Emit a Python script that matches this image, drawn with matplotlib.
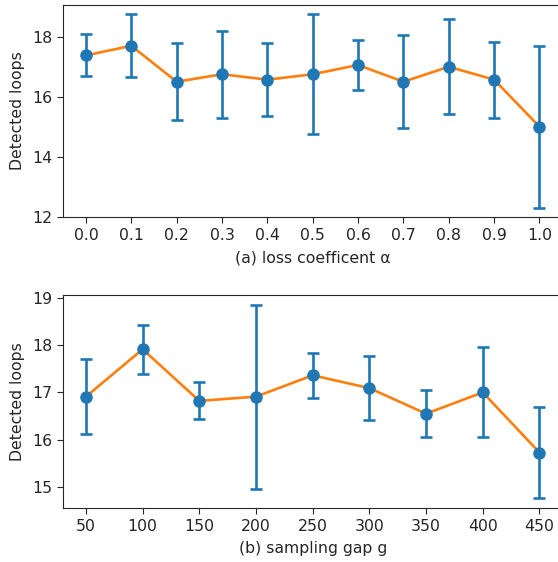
import matplotlib
matplotlib.use("Agg")
import matplotlib.pyplot as plt

# (a) loss coefficient alpha
alpha = [0.0, 0.1, 0.2, 0.3, 0.4, 0.5, 0.6, 0.7, 0.8, 0.9, 1.0]
alpha_mean = [17.38, 17.70, 16.50, 16.75, 16.57, 16.75, 17.06, 16.50, 17.00, 16.57, 15.00]
alpha_err = [0.70, 1.05, 1.28, 1.45, 1.22, 2.00, 0.83, 1.55, 1.58, 1.27, 2.70]

# (b) sampling gap g
gap = [50, 100, 150, 200, 250, 300, 350, 400, 450]
gap_mean = [16.91, 17.91, 16.82, 16.91, 17.36, 17.09, 16.55, 17.00, 15.73]
gap_err = [0.79, 0.52, 0.39, 1.94, 0.48, 0.67, 0.50, 0.95, 0.96]

dark = "0.15"
plt.rcParams.update({
    "font.size": 11.3,
    "text.color": dark, "axes.labelcolor": dark, "axes.edgecolor": dark,
    "xtick.color": dark, "ytick.color": dark,
    "xtick.major.size": 4, "ytick.major.size": 4,
    "xtick.major.pad": 4, "ytick.major.pad": 4,
    "axes.labelpad": 5,
})

fig = plt.figure(figsize=(5.58, 5.62), dpi=100)
ax_a = fig.add_axes([0.1134, 0.6134, 0.894, 0.3783])
ax_b = fig.add_axes([0.1134, 0.0966, 0.894, 0.3784])


def draw(ax, x, y, err):
    ax.plot(x, y, color="C1", lw=1.9, zorder=1)
    ax.errorbar(x, y, yerr=err, fmt="o", color="C0", ms=8, elinewidth=1.9,
                capsize=4.6, capthick=1.9, zorder=2)
    ax.set_ylabel("Detected loops")


draw(ax_a, alpha, alpha_mean, alpha_err)
ax_a.set_xticks(alpha)
ax_a.set_xticklabels([f"{a:.1f}" for a in alpha])
ax_a.set_xlabel("(a) loss coefficent α")

draw(ax_b, gap, gap_mean, gap_err)
ax_b.set_xticks(gap)
ax_b.set_xlabel("(b) sampling gap g")

fig.savefig("out.png", dpi=100)
